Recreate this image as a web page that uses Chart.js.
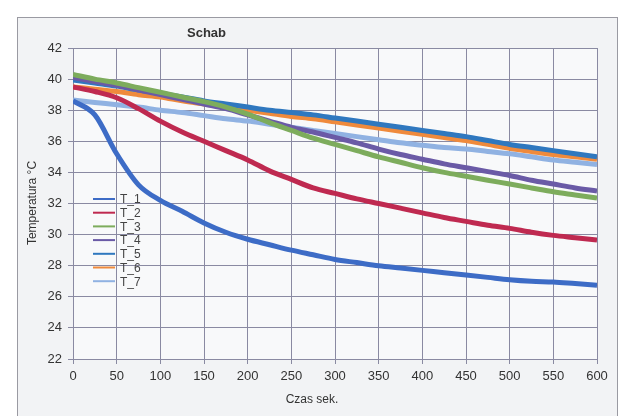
<!DOCTYPE html>
<html>
<head>
<meta charset="utf-8">
<script src="https://cdn.jsdelivr.net/npm/chart.js@4.4.0/dist/chart.umd.min.js"></script>
<style>
    html, body { margin: 0; padding: 0; background: #ffffff; }
    #wrap { width: 635px; height: 416px; position: relative; }
</style>
</head>
<body>
<div id="wrap"><canvas id="chart" width="635" height="416"></canvas></div>
<script>
const times = [0, 25, 50, 75, 100, 125, 150, 175, 200, 225, 250, 275, 300,
    325, 350, 375, 400, 425, 450, 475, 500, 525, 550, 575, 600];

const t1 = [38.6, 37.7, 35.2, 33.2, 32.2, 31.5, 30.75, 30.15, 29.7, 29.35, 29.0, 28.7, 28.4,
    28.2, 28.0, 27.85, 27.7, 27.55, 27.4, 27.25, 27.1, 27.0, 26.95, 26.85, 26.75];
const t2 = [39.5, 39.2, 38.8, 38.1, 37.3, 36.6, 36.0, 35.4, 34.8, 34.1, 33.55, 33.0, 32.65,
    32.3, 32.0, 31.7, 31.4, 31.1, 30.85, 30.6, 30.4, 30.15, 29.95, 29.8, 29.65];
const t3 = [40.3, 40.0, 39.75, 39.45, 39.15, 38.85, 38.55, 38.2, 37.75, 37.2, 36.7, 36.2, 35.8,
    35.4, 35.0, 34.65, 34.3, 34.0, 33.75, 33.5, 33.25, 33.0, 32.75, 32.55, 32.35];
const t4 = [40.1, 39.85, 39.6, 39.3, 39.0, 38.7, 38.4, 38.1, 37.7, 37.3, 36.9, 36.6, 36.25,
    35.9, 35.5, 35.15, 34.85, 34.55, 34.3, 34.05, 33.8, 33.5, 33.25, 33.0, 32.8];
const t5 = [39.95, 39.75, 39.55, 39.3, 39.1, 38.85, 38.6, 38.4, 38.2, 38.0, 37.85, 37.7, 37.5,
    37.3, 37.1, 36.9, 36.7, 36.5, 36.3, 36.05, 35.8, 35.6, 35.4, 35.2, 35.0];
const t6 = [39.5, 39.35, 39.2, 39.0, 38.85, 38.6, 38.4, 38.2, 38.0, 37.8, 37.6, 37.45, 37.25,
    37.05, 36.85, 36.65, 36.45, 36.25, 36.05, 35.8, 35.55, 35.35, 35.15, 35.0, 34.85];
const t7 = [38.65, 38.5, 38.35, 38.2, 38.0, 37.85, 37.65, 37.45, 37.3, 37.1, 36.9, 36.7, 36.5,
    36.3, 36.1, 35.9, 35.75, 35.6, 35.5, 35.35, 35.2, 35.0, 34.8, 34.65, 34.5];

const seriesNames = ['T_1', 'T_2', 'T_3', 'T_4', 'T_5', 'T_6', 'T_7'];
const seriesValues = [t1, t2, t3, t4, t5, t6, t7];
const seriesColors = ['#3d6cc6', '#bf2a50', '#7dac5c', '#6a5aa6', '#2f78bf', '#ef8a3c', '#90b2e2'];

const FONT = '"Liberation Sans", Arial, sans-serif';

// Frame, title, axis titles and legend drawn by hand
const decorPlugin = {
    id: 'decor',
    beforeDraw(chart) {
        const ctx = chart.ctx;
        const a = chart.chartArea;
        ctx.save();
        ctx.fillStyle = '#f2f3f5';
        ctx.fillRect(17, 17, 600, 410);
        ctx.strokeStyle = '#9a9aa2';
        ctx.lineWidth = 1;
        ctx.strokeRect(17.5, 17.5, 600, 410);
        ctx.fillStyle = '#f8f9fa';
        ctx.fillRect(a.left, a.top, a.right - a.left, a.bottom - a.top);
        ctx.restore();
    },
    afterDraw(chart) {
        const ctx = chart.ctx;
        ctx.save();
        ctx.fillStyle = '#333';
        ctx.font = 'bold 13px ' + FONT;
        ctx.textAlign = 'left';
        ctx.textBaseline = 'middle';
        ctx.fillText('Schab', 187, 33);

        ctx.font = '12px ' + FONT;
        ctx.textAlign = 'center';
        ctx.fillText('Czas sek.', 312, 400);
        ctx.translate(33, 203);
        ctx.rotate(-Math.PI / 2);
        ctx.fillText('Temperatura °C', 0, 0);
        ctx.restore();

        // legend
        ctx.save();
        ctx.font = '12px ' + FONT;
        ctx.textBaseline = 'middle';
        ctx.textAlign = 'left';
        chart.data.datasets.forEach((ds, i) => {
            const y = 199 + i * 13.7;
            ctx.strokeStyle = ds.borderColor;
            ctx.lineWidth = 2;
            ctx.beginPath();
            ctx.moveTo(93, y);
            ctx.lineTo(115, y);
            ctx.stroke();
            ctx.fillStyle = '#444';
            ctx.fillText(ds.label, 120, y + 1);
        });
        ctx.restore();
    }
};

const ctx = document.getElementById('chart').getContext('2d');
new Chart(ctx, {
    type: 'line',
    data: {
        datasets: seriesNames.map((name, i) => ({
            label: name,
            data: times.map((t, j) => ({ x: t, y: seriesValues[i][j] })),
            borderColor: seriesColors[i],
            backgroundColor: seriesColors[i],
            borderWidth: 5,
            pointRadius: 0,
            cubicInterpolationMode: 'monotone',
            fill: false
        }))
    },
    options: {
        responsive: false,
        animation: false,
        layout: { padding: { left: 0, top: 48, right: 38, bottom: 0 } },
        plugins: {
            legend: { display: false },
            title: { display: false },
            tooltip: { enabled: false }
        },
        scales: {
            x: {
                type: 'linear',
                min: 0,
                max: 600,
                ticks: { stepSize: 50, color: '#333', font: { family: FONT, size: 13 }, padding: 5, maxRotation: 0 },
                grid: { color: '#8a8aa2', lineWidth: 1, tickLength: 5 },
                border: { color: '#8a8aa2' },
                afterFit: (s) => { s.height = 57; }
            },
            y: {
                min: 22,
                max: 42,
                ticks: { stepSize: 2, color: '#333', font: { family: FONT, size: 13 }, padding: 6 },
                grid: { color: '#8a8aa2', lineWidth: 1, tickLength: 5 },
                border: { color: '#8a8aa2' },
                afterFit: (s) => { s.width = 73; }
            }
        }
    },
    plugins: [decorPlugin]
});
</script>
</body>
</html>
